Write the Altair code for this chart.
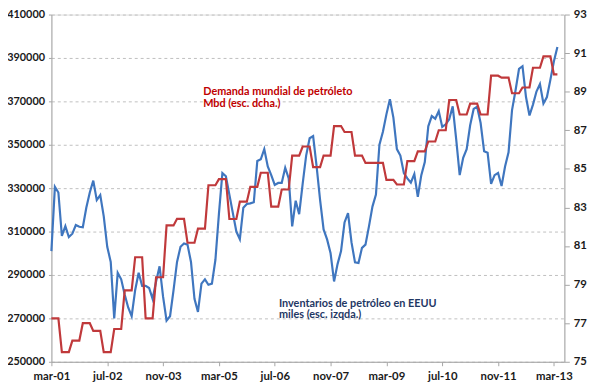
import altair as alt
import pandas as pd

# Monthly index 0 = mar-01
inventarios = [
    301000, 330600, 328000, 308000, 312500, 307500, 309000, 313000, 312200, 312000,
    321000, 328000, 333500, 324500, 326800, 317000, 303000, 296000, 270000, 291000,
    288000, 281000, 275000, 271000, 283000, 291000, 285000, 285000, 284000, 279000,
    287000, 294000, 280000, 269000, 271000, 283000, 296000, 303000, 304500, 304000,
    296000, 279000, 273000, 286000, 288000, 285500, 286000, 297000, 318000, 337000,
    335500, 327000, 318500, 310000, 306500, 321000, 322700, 323000, 323500, 342500,
    343300, 348000, 340000, 336000, 331500, 332400, 332400, 339400, 334500, 312400,
    324200, 318000, 332000, 345000, 353000, 354000, 340000, 324500, 311000, 306400,
    300000, 287000, 295000, 301000, 314200, 318500, 305000, 295800, 295500, 302500,
    304000, 312400, 321500, 327000, 350000, 356000, 364000, 371000, 362500, 348000,
    345000, 337000, 334500, 332500, 336500, 326000, 336000, 342000, 358500, 363200,
    362000, 365500, 358200, 359400, 361700, 367700, 352500, 336000, 344000, 348000,
    359000, 366500, 367500, 360000, 347000, 346300, 332000, 336000, 337000, 331000,
    340000, 346500, 366000, 375000, 385000, 386200, 372000, 363500, 368500, 374500,
    378000, 369000, 372000, 380000, 388500, 395000,
]

demanda_trimestral = [
    77.25, 75.5, 76.1, 77.0, 76.6, 75.5, 76.7, 78.7, 80.42, 77.25,
    79.38, 82.07, 82.41, 81.17, 81.9, 84.15, 84.47, 82.4, 83.3, 84.07,
    84.8, 83.04, 83.93, 85.69, 86.16, 85.09, 85.69, 87.22, 86.91, 85.69,
    85.31, 85.31, 84.43, 84.19, 85.4, 85.91, 86.42, 87.0, 88.57, 87.82,
    88.38, 87.82, 89.83, 89.73, 88.92, 89.22, 90.24, 90.83, 89.9,
]

tick_labels = ["mar-01", "jul-02", "nov-03", "mar-05", "jul-06",
               "nov-07", "mar-09", "jul-10", "nov-11", "mar-13"]

n = len(inventarios)
demanda = [demanda_trimestral[i // 3] for i in range(n)]

df = pd.DataFrame({"i": list(range(n)), "inv": inventarios, "dem": demanda})

red_text = pd.DataFrame({
    "i": [43.5, 43.5],
    "v": [374300, 368900],
    "t": ["Demanda mundial de petróleto", "Mbd (esc. dcha.)"],
})
blue_text = pd.DataFrame({
    "i": [65.2, 65.2],
    "v": [276700, 271400],
    "t": ["Inventarios de petróleo en EEUU", "miles (esc. izqda.)"],
})

FONT = "Lato"
label_expr = "[" + ",".join("'%s'" % t for t in tick_labels) + "][round(datum.value/16)]"

x_enc = alt.X(
    "i:Q",
    scale=alt.Scale(domain=[0, 147], nice=False, zero=False),
    axis=alt.Axis(
        values=[16 * k for k in range(len(tick_labels))],
        labelExpr=label_expr, labelFlush=False, labelOverlap=False,
        title=None, grid=False, domainColor="#a6a6a6", tickColor="#a6a6a6",
        tickSize=4, labelFont=FONT, labelFontWeight="bold", labelFontSize=11.5,
        labelColor="#1a1a1a", labelPadding=5,
    ),
)

left_scale = alt.Scale(domain=[250000, 410000], nice=False, zero=False)
left_axis = alt.Axis(
    values=list(range(250000, 410001, 20000)), format="d", title=None,
    grid=True, gridDash=[3, 3], gridColor="#bfbfbf", domainColor="#a6a6a6",
    tickColor="#a6a6a6", tickSize=3, labelFont=FONT, labelFontWeight="bold",
    labelFontSize=11, labelColor="#1a1a1a", labelPadding=4, labelFlush=False,
)

blue = alt.Chart(df).mark_line(color="#3F76BF", strokeWidth=2.2).encode(
    x=x_enc,
    y=alt.Y("inv:Q", scale=left_scale, axis=left_axis),
)

btext = alt.Chart(blue_text).mark_text(
    align="left", baseline="middle", font=FONT, fontWeight="bold",
    fontSize=11, color="#1F3864",
).encode(x="i:Q", y=alt.Y("v:Q", scale=left_scale), text="t:N")

rtext = alt.Chart(red_text).mark_text(
    align="left", baseline="middle", font=FONT, fontWeight="bold",
    fontSize=11, color="#C00000",
).encode(x="i:Q", y=alt.Y("v:Q", scale=left_scale), text="t:N")

left_layer = alt.layer(blue, btext, rtext)

red = alt.Chart(df).mark_line(color="#C0393B", strokeWidth=2.2).encode(
    x="i:Q",
    y=alt.Y(
        "dem:Q",
        scale=alt.Scale(domain=[75, 93], nice=False, zero=False),
        axis=alt.Axis(
            orient="right", values=list(range(75, 94, 2)), title=None, grid=False,
            domainColor="#a6a6a6", tickColor="#a6a6a6", tickSize=5,
            labelFont=FONT, labelFontWeight="bold", labelFontSize=11.5,
            labelColor="#1a1a1a", labelPadding=4, labelFlush=False,
        ),
    ),
)

chart = alt.layer(left_layer, red).resolve_scale(y="independent").properties(
    width=520, height=352,
    autosize=alt.AutoSizeParams(type="none"),
    padding={"left": 44, "top": 4, "right": 28, "bottom": 28},
).configure_view(stroke=None).configure(background="white")

chart.save("out.html", embed_options={"renderer": "svg", "actions": False})
